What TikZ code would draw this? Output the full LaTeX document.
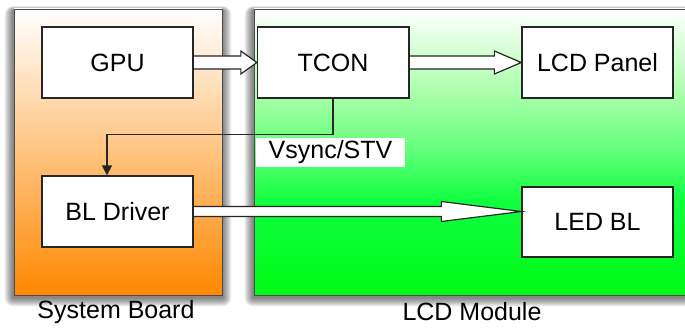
\documentclass[tikz,border=0pt]{standalone}
\usepackage{fontspec}
\setmainfont{Liberation Sans}
\usetikzlibrary{calc,arrows.meta}
\definecolor{orng}{RGB}{255,136,0}
\definecolor{grnA}{RGB}{0,250,20}
\definecolor{grnB}{RGB}{16,255,64}
\definecolor{grnC}{RGB}{96,255,120}
\definecolor{grnD}{RGB}{168,255,168}
\pgfdeclareverticalshading{lcdshade}{100bp}{color(0bp)=(grnA); color(25bp)=(grnA);
  color(41.5bp)=(grnB); color(50bp)=(grnC); color(60bp)=(grnD); color(75bp)=(white); color(100bp)=(white)}
\newcommand{\harrow}[5]{%
  \path[hollow] ($(#1)+(0,-#3)$) -- ($(#2)+(-#5,-#3)$) -- ($(#2)+(-#5,-#4)$) -- (#2)
    -- ($(#2)+(-#5,#4)$) -- ($(#2)+(-#5,#3)$) -- ($(#1)+(0,#3)$);}
\newcommand{\softshadow}[1]{%
  \foreach \i in {1,...,9}{%
    \fill[black, opacity=0.065, rounded corners=\i pt]
      ($(#1.north west)+(-\i,-\i*0.5+2)$) rectangle ($(#1.south east)+(\i,\i+2)$);}}
\begin{document}
\begin{tikzpicture}[x=1pt,y=-1pt,
  txt/.style={font=\fontsize{25}{28}\selectfont, text=black},
  box/.style={txt, draw=black!85, line width=1.3pt, fill=white,
    minimum width=151pt, minimum height=71pt, inner sep=0pt},
  panel/.style={draw=black!70, line width=0.9pt, inner sep=0pt},
  hollow/.style={draw=black!85, line width=1.2pt, fill=white, line join=miter},
  conn/.style={draw=black!85, line width=1.4pt, -{Triangle[length=10pt, width=10pt]}}]
\useasboundingbox (0,0) rectangle (685,329);
\clip (0,0) rectangle (685,329);
\fill[white] (0,0) rectangle (685,329);
% panel positions
\path (118,152) coordinate (sbc) (479,152) coordinate (lcdc);
\path (sbc) node[panel, draw=none, minimum width=208pt, minimum height=286pt] (sbs) {};
\path (lcdc) node[panel, draw=none, minimum width=450pt, minimum height=286pt] (lcds) {};
\softshadow{sbs}
\softshadow{lcds}
% panels
\node[panel, top color=white, bottom color=orng, minimum width=208pt, minimum height=286pt]
  (sb) at (sbc) {};
\node[panel, shading=lcdshade, minimum width=450pt, minimum height=286pt]
  (lcd) at (lcdc) {};
\node[txt] (sblbl) at (116,312) {System Board};
\node[txt] (lcdlbl) at (472,312) {LCD Module};
% boxes (positions)
\path (117.5,62.5) coordinate (gpuc) (333,62.5) coordinate (tconc) (597.5,62.5) coordinate (lcdpc)
      (117.5,211.5) coordinate (bldc) (597.5,222) coordinate (ledc);
\node[box] (gpu) at (gpuc) {GPU};
\node[box] (tcon) at (tconc) {TCON};
\node[box] (lcdp) at (lcdpc) {LCD Panel};
\node[box] (bld) at (bldc) {BL Driver};
\node[box, minimum height=70pt] (led) at (ledc) {LED BL};
\coordinate (bltip) at (led.west |- bld.east);
% hollow arrows
\harrow{gpu.east}{tcon.west}{6.5}{11.5}{16}
\harrow{tcon.east}{lcdp.west}{6.5}{11.5}{27}
\harrow{bld.east}{bltip}{5}{10}{80}
% redraw box borders over arrow bases
\draw[draw=black!85, line width=1.3pt] (gpu.north east) -- (gpu.south east);
\draw[draw=black!85, line width=1.3pt] (tcon.north east) -- (tcon.south east);
\draw[draw=black!85, line width=1.3pt] (bld.north east) -- (bld.south east);
% Vsync label
\node[txt, fill=white, minimum width=149pt, minimum height=29pt, inner sep=0pt] (vs) at (330.5,152.5) {Vsync/STV};
% connector
\draw[conn] (tcon.south) |- ($(bld.north)+(-10.5,-41)$) -- ($(bld.north)+(-10.5,0)$);
\end{tikzpicture}
\end{document}
